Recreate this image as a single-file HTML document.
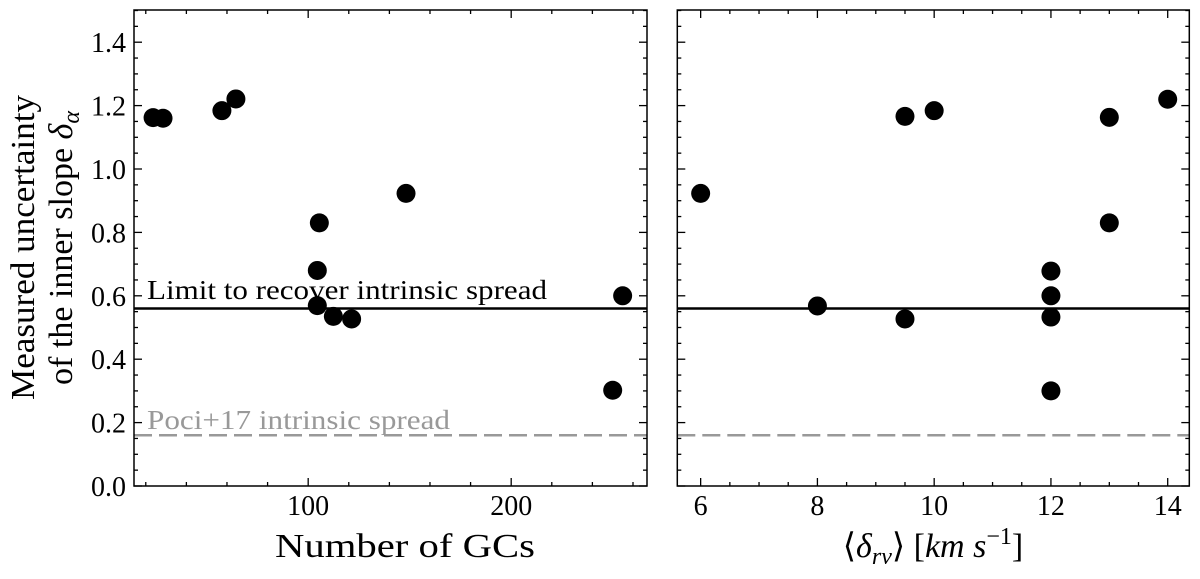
<!DOCTYPE html>
<html><head><meta charset="utf-8"><style>
html,body{margin:0;padding:0;background:#fff;}
svg{display:block;font-family:"Liberation Serif","DejaVu Serif",serif;}
</style></head><body>
<svg id="chart" width="1200" height="579" viewBox="0 0 1200 579"></svg>
<script>
const gcCounts = [23.6, 28.5, 57.5, 64.4, 105.5, 104.5, 104.5, 112.4, 121.4, 148.2, 254.9, 250];
const gcUncert = [1.162, 1.160, 1.184, 1.221, 0.83, 0.68, 0.569, 0.535, 0.527, 0.923, 0.60, 0.302];
const rvValues = [6, 8, 9.5, 9.5, 10, 12, 12, 12, 12, 13, 13, 14];
const rvUncert = [0.923, 0.568, 1.166, 0.527, 1.184, 0.678, 0.60, 0.533, 0.30, 1.163, 0.83, 1.22];
const limitLevel = 0.56;
const pociLevel = 0.16;
const yTicks = [0.0, 0.2, 0.4, 0.6, 0.8, 1.0, 1.2, 1.4];
const yTickLabels = ["0.0","0.2","0.4","0.6","0.8","1.0","1.2","1.4"];
const leftXTicks = [100, 200];
const rightXTicks = [6, 8, 10, 12, 14];

const NS = "http://www.w3.org/2000/svg";
const svgEl = document.getElementById('chart');
function mk(tag, attrs, parent){const e=document.createElementNS(NS,tag);for(const k in attrs)e.setAttribute(k,attrs[k]);(parent||svgEl).appendChild(e);return e;}

const yTop=10, yBottom=486;
function yS(v){return yBottom - v*317;}
const L={x0:134, x1:647, d0:14.2, d1:266.9};
const R={x0:677.3, x1:1189.3, d0:5.6, d1:14.37};
function xS(p,v){return p.x0 + (v-p.d0)/(p.d1-p.d0)*(p.x1-p.x0);}

function panel(p, name, xMajor, xMinorStep, showYLabels){
  const g = mk('g',{});
  
  
  for(let i=0; i<=30; i++){
    const v=i*0.05;
    const major = (i%4)===0;
    const len = major?8:4, y=yS(v);
    const t1=mk('line',{x1:p.x0,y1:y,x2:p.x0+len,y2:y,stroke:'#000','stroke-width':1.3},g);
    
    
    const t2=mk('line',{x1:p.x1,y1:y,x2:p.x1-len,y2:y,stroke:'#000','stroke-width':1.3},g);
    
    
  }
  if(showYLabels){
    yTicks.forEach((v,i)=>{
      const t=mk('text',{x:p.x0-8,y:yS(v)+10,'text-anchor':'end','font-size':28},g);
      t.textContent=yTickLabels[i];
      
      
    });
  }
  const start = Math.ceil(p.d0/xMinorStep)*xMinorStep;
  for(let v=start; v<=p.d1+1e-6; v+=xMinorStep){
    const major = xMajor.some(m=>Math.abs(m-v)<1e-6);
    const len = major?8:4, x=xS(p,v);
    const t1=mk('line',{x1:x,y1:yBottom,x2:x,y2:yBottom-len,stroke:'#000','stroke-width':1.3},g);
    
    
    const t2=mk('line',{x1:x,y1:yTop,x2:x,y2:yTop+len,stroke:'#000','stroke-width':1.3},g);
    
    
  }
  xMajor.forEach(v=>{
    const t=mk('text',{x:xS(p,v),y:515,'text-anchor':'middle','font-size':28},g);
    t.textContent=String(v);
    
    
  });
  const l1=mk('line',{x1:p.x0,x2:p.x1,y1:yS(limitLevel),y2:yS(limitLevel),stroke:'#000','stroke-width':2.5},g);
  
  
  const l2=mk('line',{x1:p.x0,x2:p.x1,y1:yS(pociLevel),y2:yS(pociLevel),stroke:'#999','stroke-width':2.5,'stroke-dasharray':'18 7'},g);
  
  
  const f=mk('rect',{x:p.x0,y:yTop,width:p.x1-p.x0,height:yBottom-yTop,fill:'none',stroke:'#000','stroke-width':1.5},g);
  
  
  return g;
}

const gl = panel(L,'left-panel',leftXTicks,20,true);
const gr = panel(R,'right-panel',rightXTicks,0.5,false);

gcCounts.forEach((v,i)=>{
  const c=mk('circle',{cx:xS(L,v),cy:yS(gcUncert[i]),r:9.5,fill:'#000'},gl);
  
  
});
rvValues.forEach((v,i)=>{
  const c=mk('circle',{cx:xS(R,v),cy:yS(rvUncert[i]),r:9.5,fill:'#000'},gr);
  
  
});

let t=mk('text',{x:147,y:299,'font-size':27,textLength:400,lengthAdjust:'spacingAndGlyphs'});
t.textContent='Limit to recover intrinsic spread';


t=mk('text',{x:147,y:429,'font-size':27,fill:'#999',textLength:303,lengthAdjust:'spacingAndGlyphs'});
t.textContent='Poci+17 intrinsic spread';



t=mk('text',{x:275,y:557,'font-size':34,textLength:260,lengthAdjust:'spacingAndGlyphs'});
t.textContent='Number of GCs';



t=mk('text',{x:933,y:557,'text-anchor':'middle','font-size':34});
t.innerHTML='⟨<tspan font-style="italic">δ</tspan><tspan font-style="italic" font-size="24" dy="7">rv</tspan><tspan dy="-7">⟩ [</tspan><tspan font-style="italic">km s</tspan><tspan font-size="24" dy="-13">−1</tspan><tspan dy="13">]</tspan>';



const yl=mk('g',{transform:'translate(0,248) rotate(-90)'});


t=mk('text',{x:-152,y:34,'font-size':34,textLength:305,lengthAdjust:'spacingAndGlyphs'},yl);
t.textContent='Measured uncertainty';
t=mk('text',{x:0,y:72,'text-anchor':'middle','font-size':34},yl);
t.innerHTML='of the inner slope <tspan font-style="italic">δ</tspan><tspan font-style="italic" font-size="24" dy="7">α</tspan>';
</script>
</body></html>
